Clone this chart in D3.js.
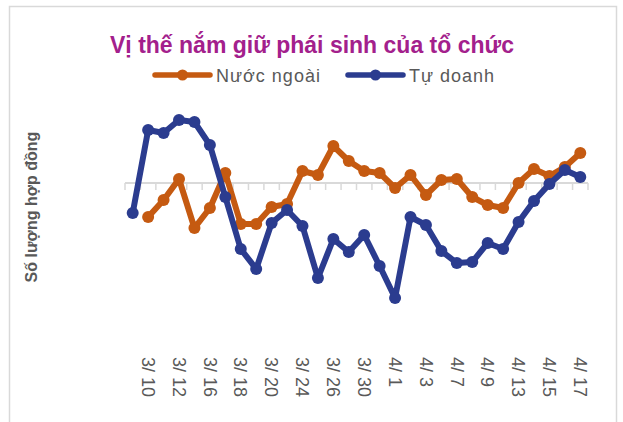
<!DOCTYPE html>
<html lang="vi">
<head>
    <meta charset="UTF-8">
    <title>Vị thế nắm giữ phái sinh của tổ chức</title>
    <script src="https://d3js.org/d3.v7.min.js"></script>
    <style>
        body { margin: 0; background: #ffffff; }
        svg { display: block; font-family: "Liberation Sans", Arial, sans-serif; }
    </style>
</head>
<body>
<svg width="623" height="422"></svg>

<script>
    // trading days, 3/9 -> 4/17
    const dates = ["3/ 9", "3/ 10", "3/ 11", "3/ 12", "3/ 13", "3/ 16", "3/ 17", "3/ 18", "3/ 19", "3/ 20",
        "3/ 23", "3/ 24", "3/ 25", "3/ 26", "3/ 27", "3/ 30", "3/ 31", "4/ 1", "4/ 2", "4/ 3",
        "4/ 6", "4/ 7", "4/ 8", "4/ 9", "4/ 10", "4/ 13", "4/ 14", "4/ 15", "4/ 16", "4/ 17"];

    // net positions (contracts)
    const nuocNgoai = [null, -3400, -1700, 400, -4500, -2500, 1000, -4100, -4100, -2400,
        -2100, 1200, 800, 3700, 2200, 1200, 1000, -500, 800, -1200,
        300, 400, -1400, -2200, -2500, 0, 1400, 700, 1600, 3000];
    const tuDoanh = [-3000, 5300, 5000, 6300, 6100, 3800, -1400, -6600, -8600, -4000,
        -2700, -4300, -9500, -5600, -6900, -5200, -8300, -11500, -3400, -4200,
        -6800, -8000, -7900, -6000, -6600, -3900, -1800, -100, 1300, 600];

    const seriesNames = ["Nước ngoài", "Tự doanh"];
    const seriesColors = ["#c55a11", "#2b3c8f"];

    const svg = d3.select("svg");

    // outer chart border
    svg.append("rect")
        .attr("x", 9.5).attr("y", 6.5)
        .attr("width", 607).attr("height", 430)
        .attr("fill", "#ffffff")
        .attr("stroke", "#d9d9d9")
        .attr("stroke-width", 1.5);

    const x = d3.scaleBand()
        .domain(dates)
        .range([125, 588]);

    const y = d3.scaleLinear()
        .domain([-14000, 9000])
        .range([323, 93]);

    // title
    svg.append("text")
        .attr("x", 312).attr("y", 53)
        .attr("text-anchor", "middle")
        .attr("font-size", "23px")
        .attr("font-weight", "bold")
        .attr("fill", "#a3208c")
        .text("Vị thế nắm giữ phái sinh của tổ chức");

    // legend
    const legendX = [155, 348];
    const legend = svg.append("g").attr("class", "legend");
    seriesNames.forEach(function (name, i) {
        const g = legend.append("g").attr("transform", "translate(" + legendX[i] + ",75)");
        g.append("line")
            .attr("x1", 0).attr("x2", 55)
            .attr("stroke", seriesColors[i])
            .attr("stroke-width", 5.5)
            .attr("stroke-linecap", "round");
        g.append("circle")
            .attr("cx", 27.5).attr("r", 5.5)
            .attr("fill", seriesColors[i]);
        g.append("text")
            .attr("x", 61).attr("y", 7)
            .attr("font-size", "18px")
            .attr("letter-spacing", "1px")
            .attr("fill", "#595959")
            .text(name);
    });

    // y axis title
    svg.append("text")
        .attr("transform", "translate(37,207) rotate(-90)")
        .attr("text-anchor", "middle")
        .attr("font-size", "16px")
        .attr("font-weight", "bold")
        .attr("fill", "#595959")
        .text("Số lượng hợp đồng");

    // category axis on the zero line, ticks between categories
    const axisG = svg.append("g").attr("class", "x-axis");
    axisG.append("line")
        .attr("x1", x.range()[0]).attr("x2", x.range()[1])
        .attr("y1", y(0)).attr("y2", y(0))
        .attr("stroke", "#d9d9d9")
        .attr("stroke-width", 2);
    const tickPos = dates.map(function (d) { return x(d); }).concat([x.range()[1]]);
    axisG.selectAll("line.tick")
        .data(tickPos)
        .enter()
        .append("line")
        .attr("class", "tick")
        .attr("x1", function (d) { return d; })
        .attr("x2", function (d) { return d; })
        .attr("y1", y(0))
        .attr("y2", y(0) + 7)
        .attr("stroke", "#d9d9d9")
        .attr("stroke-width", 1.5);

    // labels for every second date, rotated, at the bottom
    axisG.selectAll("text")
        .data(dates.filter(function (d, i) { return i % 2 === 1; }))
        .enter()
        .append("text")
        .attr("transform", function (d) {
            return "translate(" + (x(d) + x.bandwidth() / 2) + ",357) rotate(90)";
        })
        .attr("dy", "0.35em")
        .attr("font-size", "18px")
        .attr("fill", "#595959")
        .text(function (d) { return d; });

    // series
    const cx = function (i) { return x(dates[i]) + x.bandwidth() / 2; };
    [nuocNgoai, tuDoanh].forEach(function (values, s) {
        const pts = values.map(function (v, i) { return { i: i, v: v }; })
            .filter(function (d) { return d.v !== null; });

        const line = d3.line()
            .x(function (d) { return cx(d.i); })
            .y(function (d) { return y(d.v); });

        const g = svg.append("g").attr("class", "series");
        g.append("path")
            .datum(pts)
            .attr("d", line)
            .attr("fill", "none")
            .attr("stroke", seriesColors[s])
            .attr("stroke-width", 6)
            .attr("stroke-linejoin", "round")
            .attr("stroke-linecap", "round");
        g.selectAll("circle")
            .data(pts)
            .enter()
            .append("circle")
            .attr("cx", function (d) { return cx(d.i); })
            .attr("cy", function (d) { return y(d.v); })
            .attr("r", 6)
            .attr("fill", seriesColors[s]);
    });
</script>
</body>
</html>
